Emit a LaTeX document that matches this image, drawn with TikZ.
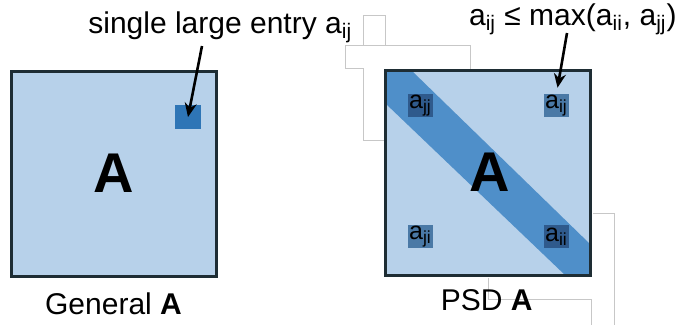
\documentclass[tikz,border=0pt]{standalone}
\usepackage{fontspec}
\setmainfont{Liberation Sans}
\usetikzlibrary{arrows.meta, calc, positioning}
\definecolor{matfill}{RGB}{183,209,234}
\definecolor{matborder}{RGB}{30,45,52}
\definecolor{bandblue}{RGB}{79,143,201}
\definecolor{bigentry}{RGB}{46,117,182}
\definecolor{diagentry}{RGB}{47,90,140}
\definecolor{offentry}{RGB}{74,121,166}
\tikzstyle{matrixbox} = [rectangle, minimum size=102.5pt, inner sep=0pt, draw=matborder, fill=matfill, line width=1.5pt]
\tikzstyle{bigletter} = [font=\fontsize{28}{30}\selectfont\bfseries, inner sep=0pt, anchor=base]
\tikzstyle{caption} = [font=\fontsize{15}{17}\selectfont, inner sep=0pt, anchor=base]
\tikzstyle{entry} = [rectangle, minimum width=12.5pt, minimum height=11.5pt, inner sep=0pt, font=\fontsize{12.5}{13}\selectfont]
\tikzstyle{pointer} = [line width=1.3pt, -{Stealth[length=7pt, width=6pt]}]
\tikzstyle{guide} = [draw=black!22, line width=0.4pt]

\begin{document}
\begin{tikzpicture}[x=0.5pt, y=-0.5pt]
    \useasboundingbox (0,0) rectangle (680,329);

    \draw [guide] (363.3,45) -- (363.3,15) -- (385.7,15) -- (385.7,45);
    \draw [guide] (345,45) -- (470,45) -- (470,68.5);
    \draw [guide] (345,45) -- (345,68.5) -- (363.3,68.5) -- (363.3,140) -- (384.5,140);
    \draw [guide] (593,213.3) -- (614,213.3) -- (614,325);
    \draw [guide] (488.3,277.5) -- (488.3,299.3) -- (591.7,299.3) -- (591.7,325);

    \node (gen) [matrixbox] at (114,174) {};
    \node (big) [rectangle, fill=bigentry, minimum width=13pt, minimum height=12pt, inner sep=0pt] at (188,117) {};
    \node (genA) [bigletter] at (114,192) {A};
    \node (genlbl) [caption] at (113.5,314) {General \textbf{A}};
    \node (biglbl) [caption, anchor=base west] at (88,33) {single large entry a\textsubscript{ij}};
    \coordinate (bigtail) at (202,46);

    \node (psd) [matrixbox, path picture={
        \fill [bandblue] ($(path picture bounding box.north west)+(26,0)$)
            -- ($(path picture bounding box.north east)+(0,174)$)
            -- (path picture bounding box.south east)
            -- ($(path picture bounding box.south east)+(-25,0)$)
            -- ($(path picture bounding box.north west)+(0,33)$)
            -- (path picture bounding box.north west) -- cycle;
        }] at (488,173) {};
    \node (ajj) [entry, fill=diagentry] at (420.5,105.5) {a\textsubscript{jj}};
    \node (aij) [entry, fill=offentry] at (556.5,105.5) {a\textsubscript{ij}};
    \node (aji) [entry, fill=offentry] at (420.5,236.5) {a\textsubscript{ji}};
    \node (aii) [entry, fill=diagentry] at (556.5,236.5) {a\textsubscript{ii}};
    \node (psdA) [bigletter] at (490,191) {A};
    \node (psdlbl) [caption] at (486.7,310) {PSD \textbf{A}};
    \node (boundlbl) [caption, anchor=base east] at (677,25) {a\textsubscript{ij} ≤ max(a\textsubscript{ii}, a\textsubscript{jj})};
    \coordinate (boundtail) at (567,33);

    \draw [pointer] (bigtail) -- (big.center);
    \draw [pointer, shorten >=3pt] (boundtail) -- (aij.north);
\end{tikzpicture}
\end{document}
